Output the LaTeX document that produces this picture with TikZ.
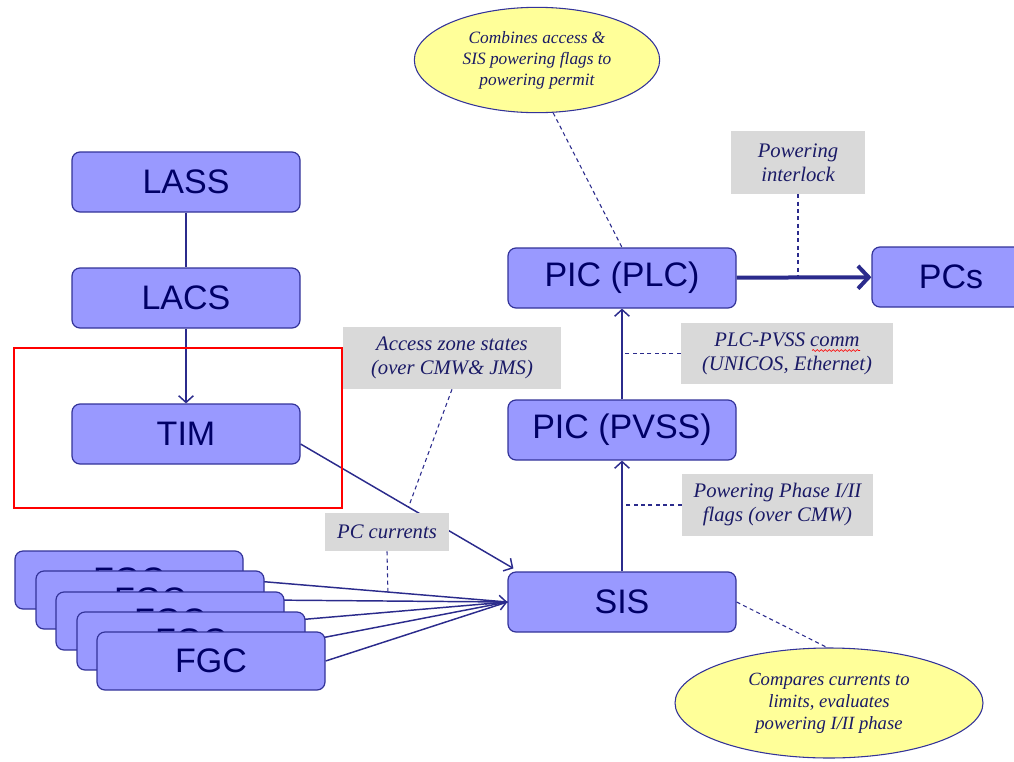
\documentclass[tikz,border=0pt]{standalone}
\usepackage{fontspec}
\setmainfont{Liberation Serif}
\setsansfont{Liberation Sans}
\usetikzlibrary{arrows.meta,shapes.geometric,calc,decorations.pathmorphing}
\definecolor{boxfill}{HTML}{9999FF}
\definecolor{boxdraw}{HTML}{333399}
\definecolor{boxtext}{HTML}{000066}
\definecolor{linec}{HTML}{2B2B8C}
\definecolor{labelgray}{HTML}{D9D9D9}
\definecolor{ellfill}{HTML}{FFFF99}
\definecolor{ittext}{HTML}{1A1A66}
\pgfdeclarelayer{back}
\pgfsetlayers{back,main}
\tikzset{
  blk/.style={draw=boxdraw, fill=boxfill, rounded corners=6pt, line width=0.9pt,
    minimum width=171pt, minimum height=45pt, inner sep=0pt,
    font=\sffamily\fontsize{25.5}{30}\selectfont, text=boxtext},
  glabel/.style={fill=labelgray, inner sep=0pt, align=center,
    font=\itshape\fontsize{15.5}{18}\selectfont, text=ittext},
  ell/.style={ellipse, draw=boxdraw, fill=ellfill, line width=0.8pt, inner sep=0pt,
    align=center, text=ittext},
  conn/.style={draw=linec, line width=1.1pt},
  tip/.style={-{Straight Barb[length=5pt,width=11pt]}},
  dsh/.style={draw=linec, line width=0.8pt, dash pattern=on 3pt off 2.5pt},
}
\begin{document}
\begin{tikzpicture}[x=0.75pt,y=-0.75pt]
\useasboundingbox (0,0) rectangle (1014,761);
\clip (0,0) rectangle (1014,761);

% left column
\node[blk] (lass) at (186,182) {LASS};
\node[blk] (lacs) at (186,298) {LACS};
\node[blk] (tim)  at (186,434) {TIM};
\node[draw=red, line width=1.6pt, minimum width=246pt, minimum height=120pt, inner sep=0pt] (frame) at (178,428) {};

% FGC stack
\node[blk, minimum height=43.5pt] (fgc1) at (129,580) {FGC};
\node[blk, minimum height=43.5pt] (fgc2) at (150,600) {FGC};
\node[blk, minimum height=43.5pt] (fgc3) at (170,621) {FGC};
\node[blk, minimum height=43.5pt] (fgc4) at (191,641) {FGC};
\node[blk, minimum height=43.5pt] (fgc5) at (211,661) {FGC};

% right column
\node[blk] (plc)  at (622,278) {PIC (PLC)};
\node[blk] (pvss) at (622,430) {PIC (PVSS)};
\node[blk] (sis)  at (622,602) {SIS};
\node[blk, minimum width=118.5pt] (pcs) at (951,277) {PCs};

% grey labels
\node[glabel, minimum width=100.5pt, minimum height=47.25pt] (pil) at (798,162.5) {Powering\\interlock};
\node[glabel, minimum width=159pt, minimum height=45.75pt] (pp) at (787,353.5) {PLC-PVSS comm\\(UNICOS, Ethernet)};
\node[glabel, minimum width=143.25pt, minimum height=46.5pt] (ph) at (777.5,505) {Powering Phase I/II\\flags (over CMW)};
\node[glabel, minimum width=163.5pt, minimum height=46.5pt] (acc) at (452,358) {Access zone states\\(over CMW\& JMS)};
\node[glabel, minimum width=93pt, minimum height=28.5pt] (pcc) at (387,532) {PC currents};
\draw[red, line width=0.5pt, decorate, decoration={snake, amplitude=0.7pt, segment length=3pt}]
  ($(pp.center)+(25,-3)$) -- ($(pp.center)+(73,-3)$);

% ellipses
\node[ell, minimum width=184pt, minimum height=79pt, font=\itshape\fontsize{13}{15.75}\selectfont] (e1) at (537,60)
  {Combines access \&\\SIS powering flags to\\powering permit};
\node[ell, minimum width=231pt, minimum height=82.5pt, font=\itshape\fontsize{14}{16.5}\selectfont] (e2) at (829,703)
  {Compares currents to\\limits, evaluates\\powering I/II phase};

% connectors
\begin{pgfonlayer}{back}
\draw[conn] (lass) -- (lacs);
\draw[conn, tip] (lacs) -- (tim);
\coordinate (timout) at (tim.-5);
\coordinate (sisin) at ($(sis.north west)+(6,-3)$);
\draw[conn, tip] (timout) -- (sisin);
\foreach \k in {1,...,5} {
  \draw[conn] (fgc\k.east) -- (sis.west);
}
\draw[conn, tip] ($(fgc3.east)!0.9!(sis.west)$) -- (sis.west);
\draw[conn, tip] (sis) -- (pvss);
\draw[conn, tip] (pvss) -- (plc);
\draw[draw=linec, line width=3pt, -{Straight Barb[length=8pt,width=17pt]}] (plc) -- (pcs);

\coordinate (pcend) at ($(fgc1.east)!0.547!(sis.west)$);
\draw[dsh] (pcc.south) -- (pcend);
\coordinate (accend) at ($(timout)!0.507!(sisin)$);
\draw[dsh] (acc.south) -- (accend);
\draw[dsh] (e1.-73) -- (plc.north);
\draw[dsh] (sis.east) -- (e2.92);
\draw[dsh] (pil.south) -- (pil.south |- plc.east);
\draw[dsh] (pp.west) -- (pp.west -| plc.south);
\draw[dsh] (ph.west) -- (ph.west -| sis.north);
\end{pgfonlayer}
\end{tikzpicture}
\end{document}
